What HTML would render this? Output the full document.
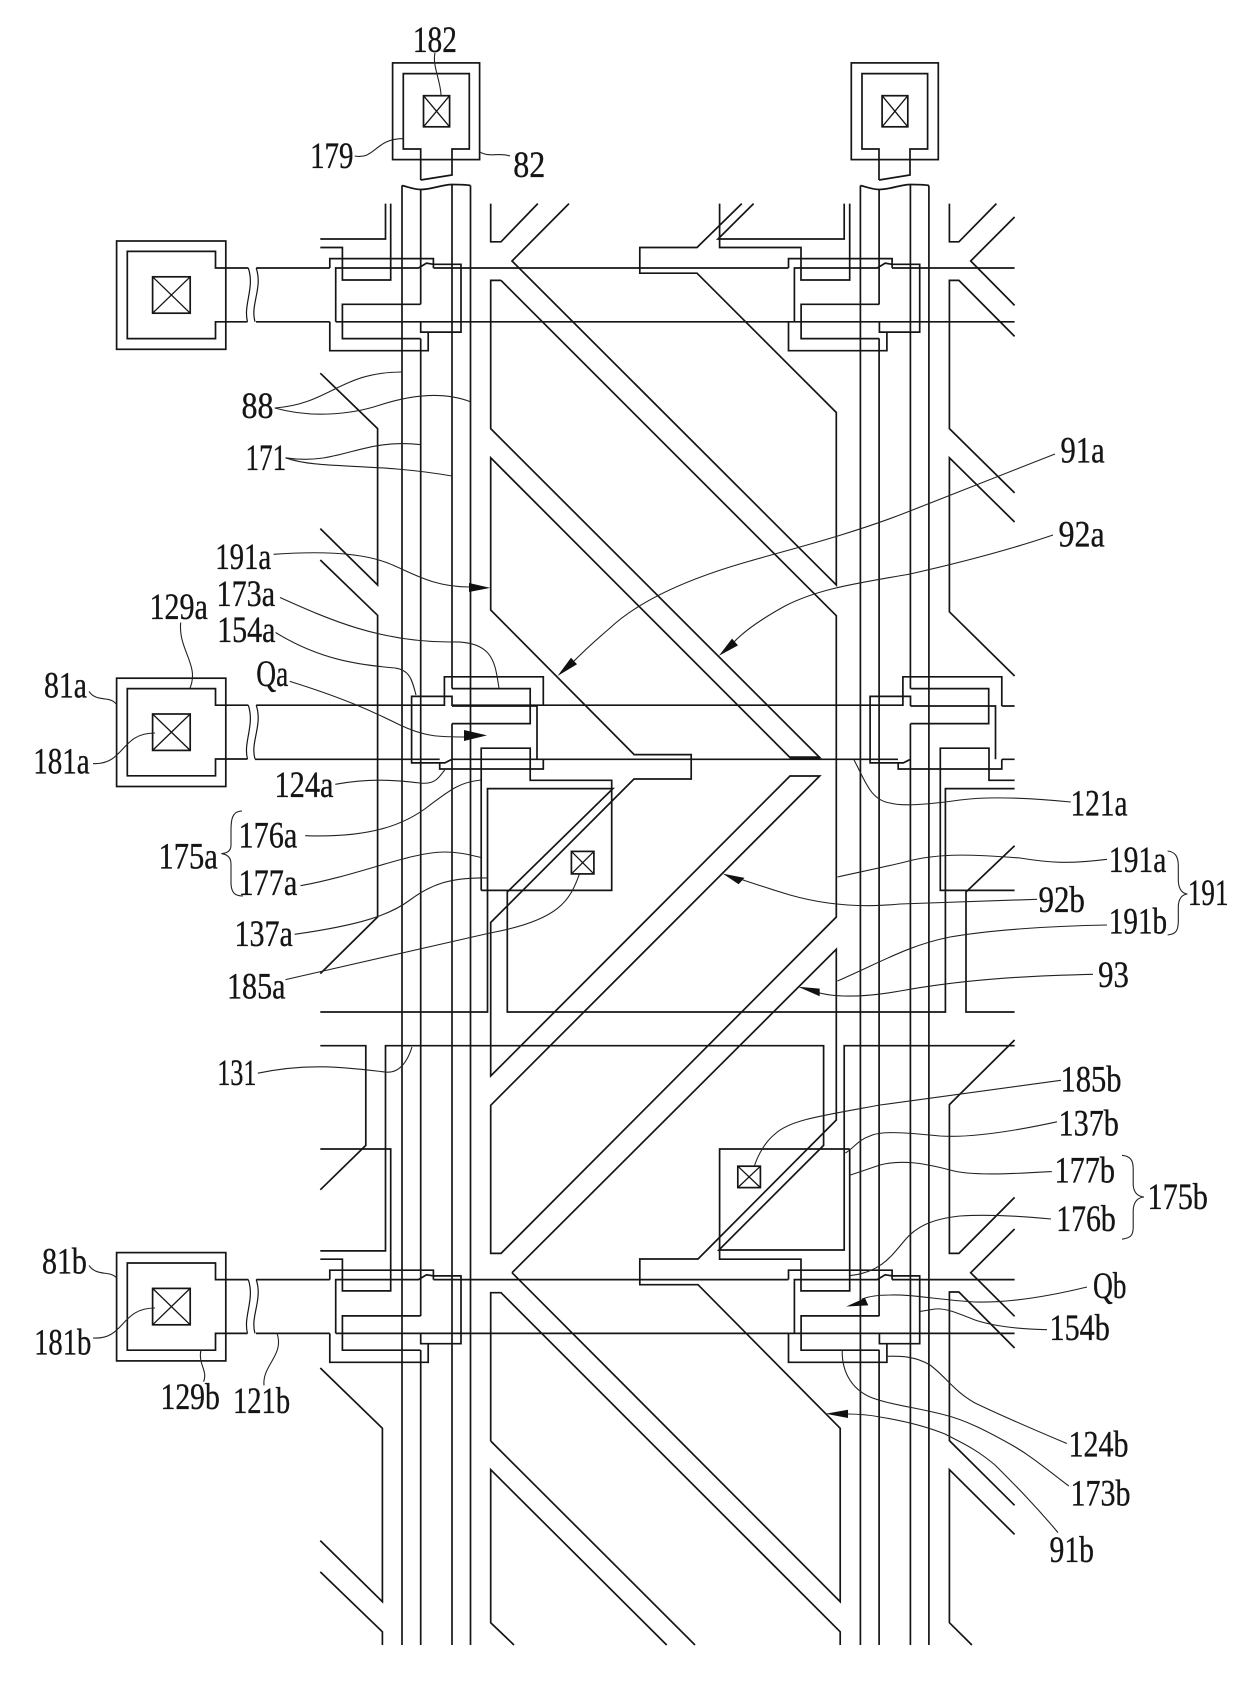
<!DOCTYPE html>
<html><head><meta charset="utf-8"><style>
html,body{margin:0;padding:0;background:#fff;width:1240px;height:1690px;overflow:hidden}
svg{display:block}
.s{fill:none;stroke:#151515;stroke-width:1.7;stroke-linejoin:miter}
.l{fill:none;stroke:#222;stroke-width:1.1}
.a{fill:#111;stroke:none}
text{font-family:"Liberation Serif",serif;font-size:37px;fill:#151515;stroke:#151515;stroke-width:.35}
</style></head><body>
<svg width="1240" height="1690" viewBox="0 0 1240 1690" xmlns="http://www.w3.org/2000/svg">
<defs>
<g id="pad" class="s">
<rect x="116.6" y="241" width="109.2" height="108.3"/>
<path d="M248.3,268H215.5V251.4H127.3V338.6H215.5V321.8H247.5"/>
<rect x="152.6" y="276.8" width="37.6" height="36.4"/>
<path d="M152.6,276.8L190.2,313.2M190.2,276.8L152.6,313.2" stroke-width="1.3"/>
<path d="M248.3,268C255,288 243,305 247.5,321.8M256.2,268C263,288 250,305 255,321.8" stroke-width="1.2"/>
</g>
<g id="tft" class="s">
<path d="M329.8,268V258.6H433.4V268"/>
<path d="M329.8,321.8V350.7H428.2V332.1"/>
<path d="M335.7,321.8V268H418.5L426.5,263.2L433.4,264.3H461V332.1H420.7V321.8"/>
<path d="M420.7,304.3H342.4V338.6H420.7"/>
</g>
<g id="tfa" class="s">
<path d="M444.4,706V676.8H543.3V706"/>
<path d="M452,706V696.4H411.6V762.9H439.7V769H543.3V759.3"/>
<path d="M439.7,762.9H444.8L452,759.3"/>
<path d="M452,706H537V759.3"/>
<path d="M452,688.6H530.2V723.6H452"/>
</g>
<g id="col" class="s">
<path d="M402,185.5C408,187 414,189.5 420.7,189.5C432,189.5 442,184.5 452,184.5C460,184.5 465,184.5 470.5,185.5"/>
<path d="M402,185.5V1645M470.5,185.5V1645"/>
<path d="M420.7,189.5V304.3M420.7,338.6V1316M420.7,1350.1V1645"/>
<path d="M452,184.5V688.6M452,723.6V1645"/>
</g>
</defs>

<!-- top pads -->
<g class="s">
<rect x="392.6" y="62.9" width="87" height="96.7"/>
<path d="M420.7,180V149H403.3V73.6H469.3V149H452V175L420.7,180"/>
<rect x="423.5" y="95.7" width="26.1" height="31.1"/>
<path d="M423.5,95.7L449.6,126.8M449.6,95.7L423.5,126.8" stroke-width="1.3"/>
<rect x="851.3" y="62.9" width="87" height="96.7"/>
<path d="M879,180V149H862V73.6H927.6V149H910V175L879,180"/>
<rect x="882.1" y="95.7" width="25.7" height="31.1"/>
<path d="M882.1,95.7L907.8,126.8M907.8,95.7L882.1,126.8" stroke-width="1.3"/>
</g>

<use href="#col"/><use href="#col" x="458.4"/>
<use href="#pad"/><use href="#pad" y="1011.6"/>
<g transform="translate(0,437.2)"><use href="#pad"/></g>
<use href="#tft"/><use href="#tft" x="458.7"/>
<use href="#tft" y="1011.6"/><use href="#tft" x="458.7" y="1011.6"/>
<use href="#tfa"/><use href="#tfa" x="458.5"/>

<!-- gate lines -->
<g class="s">
<path d="M256.2,268H329.8M433.4,268H788.4M892,268H1014.6"/>
<path d="M256,321.8H329.8M335.7,321.8H1014.6"/>
<path d="M256.2,705.2H444.4M452,705.2H902.9M1001.8,706H1014.6"/>
<path d="M255,759.3H439.7M452,759.3H898M1002,759.3H1014.6"/>
<path d="M256.2,1279.6H329.8M433.4,1279.6H788.4M892,1279.6H1014.6"/>
<path d="M256,1333.4H329.8M335.7,1333.4H1014.6"/>
<path d="M790,757.5H819.7" stroke-width="2.6"/>
</g>

<!-- pixel electrode and other shapes -->
<g class="s">
<path d="M320.3,239H385.5V203.6"/>
<path d="M390.7,203.6V280H342.4V247.5H320.3"/>
<path d="M719.6,203.6V247.5H801V280H849.7V203.6"/>
<path d="M753.6,203.6L718,239H844.2V203.6"/>
<path d="M741.8,203.6L697,247.5H639.8V273.2H697L836.3,412.5V585L512,261L569,203.6"/>
<path d="M490.7,203.6V241.8H501L537.8,203.6"/>
<path d="M501,280.4H490.7V428.6L819.7,757.5H790L490.7,457.8V610L634.2,754.6H691.2V779H634L490.7,922.5V1076L790,776H819.7L490.7,1105.3V1253.4H501L836.3,917V615.7L501,280.4"/>
<path d="M512,1272.7L836.3,949.3V1120L698,1259H639.8V1284.7H698L840.2,1428.3V1601.7L512,1272.7"/>
<path d="M490.7,1441V1292.7H501L840.2,1631.8V1645"/>
<path d="M490.7,1441L695,1645"/>
<path d="M666.7,1645L490.7,1469.7V1622.7L514,1645"/>
<path d="M949.4,203.6V241.8H958.9L996.4,203.6"/>
<path d="M1014.6,217L970.7,261L1014.6,305.4"/>
<path d="M1014.6,336.4L958.9,280.4H949.4V428.6L1014.6,492.9"/>
<path d="M1014.6,522L949.4,457.8V611.8L1014.6,676"/>
<path d="M1014.6,780.3H989V748.2H940.3V890.4H1014.6"/>
<path d="M481.2,890.4H611.7V780.3H530.2V748.2H481.2V890.4"/>
<path d="M320.3,1012H487.5V788.6H612.9L507.3,892V1012H945.4V788.6H1014.6"/>
<path d="M1014.6,845.7L966,892V1012H1014.6"/>
<path d="M320.3,1045.7H365.8V1145.4L320.3,1189.8"/>
<path d="M320.3,1250.9H385.5V1045.7H823.6V1145.4L718.9,1250H844.2V1045.7H1014.6"/>
<path d="M320.3,1149H390.7V1290.9H342.4V1259.2H320.3"/>
<path d="M849.7,1149H719.6V1259.2H801V1290.9H849.7V1149"/>
<path d="M1014.6,1040L949.4,1104.6V1253.4H958.9L1014.6,1197.4"/>
<path d="M1014.6,1229L970.7,1272.7L1014.6,1316.3"/>
<path d="M1014.6,1348L958.9,1292H949.4V1440.6L1014.6,1505.3"/>
<path d="M1014.6,1534.4L949.4,1469.7V1622.7L971.9,1645"/>
<path d="M320.3,373.2L377.6,428.6V585L320.3,528.6"/>
<path d="M320.3,560L377.6,615.3V917L320.3,973.6"/>
<path d="M320.3,1368L382.4,1428.3V1601.7L320.3,1540.6"/>
<path d="M320.3,1571.9L382.4,1631.8V1645"/>
<rect x="571.4" y="851.4" width="22.5" height="22.5"/>
<path d="M571.4,851.4L593.9,873.9M593.9,851.4L571.4,873.9" stroke-width="1.3"/>
<rect x="737.8" y="1166.2" width="22.6" height="21.4"/>
<path d="M737.8,1166.2L760.4,1187.6M760.4,1166.2L737.8,1187.6" stroke-width="1.3"/>
</g>

<!-- leaders -->
<g class="l">
<path d="M435,52.9C432,65 441,82 441,95.7"/>
<path d="M354.7,156C375,160 375,138.6 403.3,138.6"/>
<path d="M479.6,151.8C490,158 498,152 510,156"/>
<path d="M274.8,408C330,404 340,372 402,372"/>
<path d="M274.8,408C310,418 350,415 380,405C405,397 440,390 470.5,401.8"/>
<path d="M285.5,457.8C340,466 360,438 420,444.6"/>
<path d="M285.5,457.8C320,470 370,462 452,476"/>
<path d="M273.6,554.3C320,551 360,553 385,562C410,571 430,587 470,587"/>
<path d="M280,597.5C330,620 380,642 450,642C495,640 495,665 499,688"/>
<path d="M275.6,632.5C320,660 360,665 395,668C410,670 412,680 416,695"/>
<path d="M180.7,622.5C178,650 200,665 189.8,688.6"/>
<path d="M89,691.4C97,703 110,695 116.6,704.6"/>
<path d="M289.8,681.4C340,697 370,710 400,725C425,737 440,737 465,737"/>
<path d="M93,763.6C125,765 120,733 155,733"/>
<path d="M335.3,784.3C370,778 395,780 420,783C437,785 440,775 444.8,770"/>
<path d="M305.2,835.7C370,838 405,825 430,805C450,790 460,782 481,780"/>
<path d="M300.5,885.7C360,875 410,852 445,852C460,852 470,855 481,857.5"/>
<path d="M294.6,934.3C360,925 390,915 410,900C430,885 450,877 487.5,878"/>
<path d="M285.5,979.6L490,933C560,920 570,900 579.3,874.3"/>
<path d="M257.8,1073.2C310,1062 350,1068 385,1072C400,1074 408,1060 412,1047"/>
<path d="M1055,454L910,511C850,535 780,552 750,561C690,578 640,600 610,628Q590,645 574,661"/>
<path d="M1053,535C1000,553 950,565 910,574C860,583 820,588 785,606C765,617 745,630 733,643"/>
<path d="M1070.8,802C1030,798 990,796 960,800C925,805 900,806 890,803C870,800 865,780 854,760"/>
<path d="M1107,859.3C1070,864 1050,863 1020,858C980,855 940,852 905,862C880,868 860,872 837.5,877"/>
<path d="M1037,899.3L900,904C860,908 825,905 790,895C770,889 755,884 740,879"/>
<path d="M1107,925C1050,926 990,930 950,937C910,945 885,960 837.5,981"/>
<path d="M1093,974.3C1020,976 960,980 900,991C860,998 830,998 810,990"/>
<path d="M1060.9,1080.3L880,1105C820,1116 790,1120 775,1134C765,1142 758,1155 754.4,1166"/>
<path d="M1057,1121.8C1010,1132 970,1138 940,1136C900,1132 880,1131 870,1136C858,1140 855,1147 845.4,1153"/>
<path d="M1051.8,1171.6C1010,1174 970,1176 950,1170C920,1162 900,1160 880,1165L850.5,1175"/>
<path d="M1051,1219C1020,1216 990,1214 960,1216C930,1219 915,1228 905,1240C890,1258 880,1272 850.5,1275.6"/>
<path d="M1087,1287C1050,1296 1010,1303 975,1302C940,1300 910,1294 890,1295C880,1295 870,1296 862,1299"/>
<path d="M1047,1329.7C1015,1329 990,1325 975,1320C955,1312 945,1308 935,1309L919.3,1311.6"/>
<path d="M1066.8,1443.5C1030,1428 1000,1415 975,1403C955,1392 945,1376 930,1365C915,1356 900,1356 887.7,1356.3"/>
<path d="M1068.8,1486C1045,1468 1030,1455 1010,1444C985,1430 965,1420 945,1415C915,1407 890,1405 870,1397C850,1388 842,1370 842.2,1351"/>
<path d="M1058,1532.6C1035,1505 1015,1485 995,1465C975,1448 960,1442 945,1434C925,1426 905,1421 880,1417C870,1415 860,1414 846,1414"/>
<path d="M89,1265.4C97,1277 110,1270 116.6,1278"/>
<path d="M93,1338C125,1340 120,1308 155,1308"/>
<path d="M203.6,1381.7C208,1370 198,1365 200.9,1350"/>
<path d="M264,1385.4C262,1365 285,1355 276.8,1332.7"/>
<path d="M242,811C232,811 231,820 231,830L231,845Q231,853 221.4,853.6Q231,855 231,864L231,882C231,893 235,896 243,896"/>
<path d="M1167.6,851C1175,852 1178,856 1178.3,865L1178.3,881Q1179,893 1187.4,894Q1179,895 1178.3,906L1178.3,922C1178,932 1175,934 1167.6,935"/>
<path d="M1122,1155.3C1130,1156 1133,1160 1133.2,1168L1133.2,1185Q1134,1196 1144,1197Q1134,1198 1133.2,1210L1133.2,1228C1133,1236 1130,1238 1122,1239.2"/>
</g>

<!-- arrowheads -->
<polygon class="a" points="490.3,587.9 469,583 469,592"/>
<polygon class="a" points="487,735.4 464,730 464,741"/>
<polygon class="a" points="557.5,676 577,664.3 571,657.7"/>
<polygon class="a" points="718.9,655.7 738,645.4 732,638.6"/>
<polygon class="a" points="722.8,873.6 744.5,877.9 738.6,884.3"/>
<polygon class="a" points="798,986.8 819.7,988.6 819.7,996.3"/>
<polygon class="a" points="846.2,1306.5 865,1298 868.3,1305.4"/>
<polygon class="a" points="825.6,1413.7 848,1409.7 848,1418"/>

<!-- labels -->
<g>
<text x="412.9" y="52" textLength="44" lengthAdjust="spacingAndGlyphs">182</text>
<text x="310.1" y="168.1" textLength="43.4" lengthAdjust="spacingAndGlyphs">179</text>
<text x="513.3" y="177" textLength="32" lengthAdjust="spacingAndGlyphs">82</text>
<text x="241.5" y="418.1" textLength="32" lengthAdjust="spacingAndGlyphs">88</text>
<text x="245.5" y="469.8" textLength="40.7" lengthAdjust="spacingAndGlyphs">171</text>
<text x="215.2" y="569.2" textLength="56" lengthAdjust="spacingAndGlyphs">191a</text>
<text x="216.5" y="605.9" textLength="58.6" lengthAdjust="spacingAndGlyphs">173a</text>
<text x="217.2" y="642.2" textLength="58.3" lengthAdjust="spacingAndGlyphs">154a</text>
<text x="149.5" y="619.2" textLength="58.4" lengthAdjust="spacingAndGlyphs">129a</text>
<text x="44" y="697.7" textLength="43" lengthAdjust="spacingAndGlyphs">81a</text>
<text x="256.3" y="685.9" textLength="32" lengthAdjust="spacingAndGlyphs">Qa</text>
<text x="33.3" y="773.4" textLength="56.4" lengthAdjust="spacingAndGlyphs">181a</text>
<text x="274.5" y="797" textLength="59" lengthAdjust="spacingAndGlyphs">124a</text>
<text x="238.5" y="847.7" textLength="58.8" lengthAdjust="spacingAndGlyphs">176a</text>
<text x="158.5" y="868.4" textLength="59.3" lengthAdjust="spacingAndGlyphs">175a</text>
<text x="238.5" y="894.8" textLength="58.8" lengthAdjust="spacingAndGlyphs">177a</text>
<text x="234.5" y="945.9" textLength="58.4" lengthAdjust="spacingAndGlyphs">137a</text>
<text x="227" y="998.4" textLength="58.5" lengthAdjust="spacingAndGlyphs">185a</text>
<text x="217.2" y="1085.2" textLength="39.3" lengthAdjust="spacingAndGlyphs">131</text>
<text x="1060.5" y="462.7" textLength="44.2" lengthAdjust="spacingAndGlyphs">91a</text>
<text x="1058.5" y="546.6" textLength="46.2" lengthAdjust="spacingAndGlyphs">92a</text>
<text x="1070.5" y="815.6" textLength="57" lengthAdjust="spacingAndGlyphs">121a</text>
<text x="1108.8" y="872" textLength="57.6" lengthAdjust="spacingAndGlyphs">191a</text>
<text x="1187.9" y="904.8" textLength="40.6" lengthAdjust="spacingAndGlyphs">191</text>
<text x="1038.5" y="912" textLength="46.4" lengthAdjust="spacingAndGlyphs">92b</text>
<text x="1108.8" y="933.4" textLength="58.3" lengthAdjust="spacingAndGlyphs">191b</text>
<text x="1098.1" y="987" textLength="30.7" lengthAdjust="spacingAndGlyphs">93</text>
<text x="1060.5" y="1091.6" textLength="61" lengthAdjust="spacingAndGlyphs">185b</text>
<text x="1058.5" y="1135.5" textLength="60.4" lengthAdjust="spacingAndGlyphs">137b</text>
<text x="1054.5" y="1182.7" textLength="60.5" lengthAdjust="spacingAndGlyphs">177b</text>
<text x="1147.5" y="1209.2" textLength="60.4" lengthAdjust="spacingAndGlyphs">175b</text>
<text x="1056.2" y="1231.1" textLength="59.6" lengthAdjust="spacingAndGlyphs">176b</text>
<text x="1093" y="1298.2" textLength="33.5" lengthAdjust="spacingAndGlyphs">Qb</text>
<text x="1049.5" y="1340.2" textLength="60.3" lengthAdjust="spacingAndGlyphs">154b</text>
<text x="1068.5" y="1456.5" textLength="60" lengthAdjust="spacingAndGlyphs">124b</text>
<text x="1070.5" y="1505.5" textLength="60" lengthAdjust="spacingAndGlyphs">173b</text>
<text x="1049.5" y="1561.9" textLength="44.5" lengthAdjust="spacingAndGlyphs">91b</text>
<text x="42" y="1273.6" textLength="44.9" lengthAdjust="spacingAndGlyphs">81b</text>
<text x="34.1" y="1354.7" textLength="57.2" lengthAdjust="spacingAndGlyphs">181b</text>
<text x="160.5" y="1409.2" textLength="59.3" lengthAdjust="spacingAndGlyphs">129b</text>
<text x="233" y="1412.8" textLength="57.1" lengthAdjust="spacingAndGlyphs">121b</text>
</g>
</svg>
</body></html>
